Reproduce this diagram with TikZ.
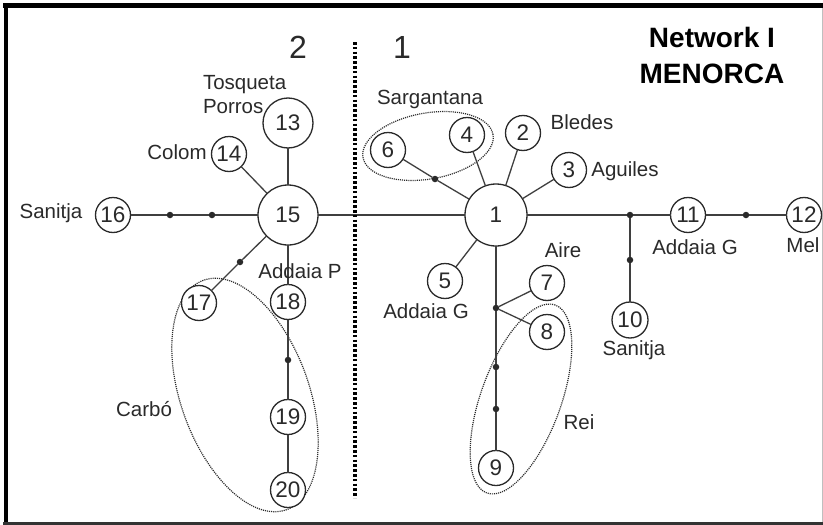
\documentclass[tikz,border=0pt]{standalone}
\usepackage{fontspec}
\setmainfont{Liberation Sans}
\definecolor{ink}{HTML}{2A2A2A}
\begin{document}
\begin{tikzpicture}[x=1pt,y=-1pt,
  every node/.style={inner sep=0pt, outer sep=0pt},
  num/.style={circle, draw=ink, line width=1.3pt, minimum size=35pt, fill=white,
    font=\fontsize{22.5}{22.5}\selectfont, text=ink},
  lbl/.style={font=\fontsize{20.5}{21}\selectfont, text=ink, text height=15pt, text depth=4pt},
  dotn/.style={circle, fill=ink, minimum size=6.5pt},
  conn/.style={draw=ink!90, line width=1.3pt},
  grp/.style={draw=ink, line width=1.2pt, dash pattern=on 1.1pt off 1pt},
  bigdigit/.style={font=\fontsize{32}{32}\selectfont, text=ink},
  title/.style={font=\bfseries\fontsize{28}{28}\selectfont, text=black}
]
\useasboundingbox (0,0) rectangle (823,525);
\fill[white] (0,0) rectangle (823,525);
% frame
\draw[black, line width=4.5pt] (6,3) -- (6,525);
\draw[black, line width=5pt] (3,5.5) -- (823,5.5);
\draw[black!80, line width=3pt] (3,523.5) -- (823,523.5);
\draw[black!25, line width=1pt] (822.5,8) -- (822.5,522);

% group ellipses
\draw[grp, rotate around={10:(428,146)}] (428,146) ellipse [x radius=66pt, y radius=33pt];
\draw[grp, rotate around={70:(521,399)}] (521,399) ellipse [x radius=100pt, y radius=40pt];
\draw[grp, rotate around={110:(245,395)}] (245,395) ellipse [x radius=122pt, y radius=64pt];

% nodes
\node[num, minimum size=62pt] (n1) at (496,215) {1};
\node[num] (n2) at (523,133) {2};
\node[num] (n3) at (569,170) {3};
\node[num] (n4) at (467,135) {4};
\node[num] (n5) at (445,281) {5};
\node[num] (n6) at (388,150) {6};
\node[num] (n7) at (547,283) {7};
\node[num] (n8) at (547,332) {8};
\node[num] (n9) at (496,468) {9};
\node[num, minimum size=36pt] (n10) at (630,320) {10};
\node[num] (n11) at (688,215) {11};
\node[num] (n12) at (804,215) {12};
\node[num, minimum size=50pt] (n13) at (288,123) {13};
\node[num] (n14) at (229,154) {14};
\node[num, minimum size=60pt] (n15) at (288,215) {15};
\node[num] (n16) at (113,215) {16};
\node[num] (n17) at (199,303) {17};
\node[num] (n18) at (288,302) {18};
\node[num] (n19) at (288,417) {19};
\node[num] (n20) at (288,490) {20};

% intermediate dots
\node[dotn] (d16a) at (212,215) {};
\node[dotn] (d16b) at (170,215) {};
\node[dotn] (d17) at (240,262) {};
\node[dotn] (d19) at (288,360) {};
\node[dotn] (d6) at (435,179) {};
\node[dotn] (dA) at (496,308) {};
\node[dotn] (dB) at (496,367) {};
\node[dotn] (dC) at (496,409) {};
\node[dotn] (dR) at (630,215) {};
\node[dotn] (dR2) at (630,260) {};
\node[dotn] (dM) at (746,215) {};

% connectors
\draw[conn] (n15) -- (n13);
\draw[conn] (n15) -- (n14);
\draw[conn] (n15) -- (d16a);
\draw[conn] (d16a) -- (d16b);
\draw[conn] (d16b) -- (n16);
\draw[conn] (n15) -- (n1);
\draw[conn] (n15) -- (n18);
\draw[conn] (n18) -- (d19);
\draw[conn] (d19) -- (n19);
\draw[conn] (n19) -- (n20);
\draw[conn] (n15) -- (d17);
\draw[conn] (d17) -- (n17);
\draw[conn] (n1) -- (n4);
\draw[conn] (n1) -- (n2);
\draw[conn] (n1) -- (n3);
\draw[conn] (n1) -- (d6);
\draw[conn] (d6) -- (n6);
\draw[conn] (n1) -- (n5);
\draw[conn] (n1) -- (dA);
\draw[conn] (dA) -- (dB);
\draw[conn] (dB) -- (dC);
\draw[conn] (dC) -- (n9);
\draw[conn] (dA) -- (n7);
\draw[conn] (dA) -- (n8);
\draw[conn] (n1) -- (dR);
\draw[conn] (dR) -- (n11);
\draw[conn] (n11) -- (dM);
\draw[conn] (dM) -- (n12);
\draw[conn] (dR) -- (dR2);
\draw[conn] (dR2) -- (n10);

% divider
\coordinate (divtop) at (355,42);
\coordinate (divbot) at (355,498);
\draw[black, line width=3.2pt, dash pattern=on 2.6pt off 2.2pt] (divtop) -- (divbot);

% labels
\node[bigdigit] (h2) at (298,47) {2};
\node[bigdigit] (h1) at (402,47) {1};
\node[title] (t1) at (712,37) {Network I};
\node[title] (t2) at (712,74) {MENORCA};

\node[lbl, anchor=west] (lTos) at (203,84) {Tosqueta};
\node[lbl, anchor=west] (lPor) at (203,108) {Porros};
\node[lbl] (lCol) at (177,154) {Colom};
\node[lbl] (lSan1) at (51,213) {Sanitja};
\node[lbl] (lSar) at (430,99) {Sargantana};
\node[lbl] (lBle) at (582,124) {Bledes};
\node[lbl] (lAgu) at (625,171) {Aguiles};
\node[lbl] (lAdG1) at (695,249) {Addaia G};
\node[lbl] (lMel) at (803,247) {Mel};
\node[lbl] (lAir) at (563,252) {Aire};
\node[lbl] (lAdG2) at (426,313) {Addaia G};
\node[lbl] (lSan2) at (634,350) {Sanitja};
\node[lbl] (lRei) at (579,424) {Rei};
\node[lbl] (lAdP) at (300,273) {Addaia P};
\node[lbl] (lCar) at (144,411) {Carbó};
\end{tikzpicture}
\end{document}
